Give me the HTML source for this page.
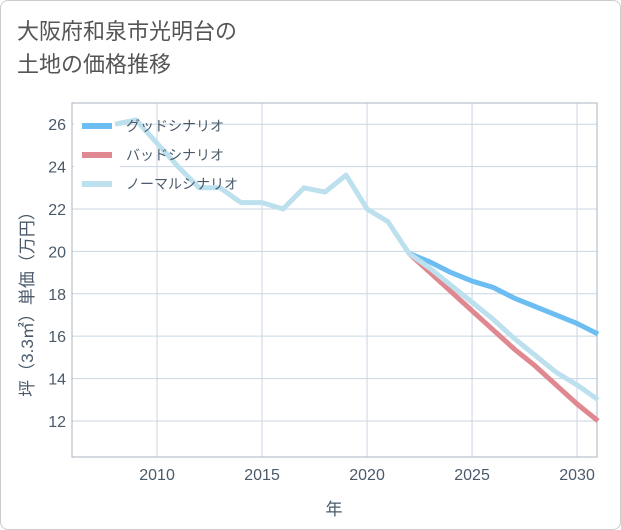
<!DOCTYPE html>
<html><head><meta charset="utf-8"><style>
body{margin:0;background:#fff}
#wrap{position:relative;width:619px;height:528px;border:1px solid #ccc;border-radius:8px;background:#fff;overflow:hidden;font-family:"Liberation Sans","Noto Sans CJK JP",sans-serif}
#title{position:absolute;left:16px;top:14px;font-size:22px;line-height:33px;color:#555}
</style></head><body>
<div id="wrap">
<div id="title">大阪府和泉市光明台の<br>土地の価格推移</div>
<svg id="chart" width="621" height="530" style="position:absolute;left:-1px;top:-1px"></svg>
</div>
<script>
const years=[2008,2009,2010,2011,2012,2013,2014,2015,2016,2017,2018,2019,2020,2021,2022,2023,2024,2025,2026,2027,2028,2029,2030,2031];
const normalVals=[26.0,26.2,25.1,24.0,23.0,23.0,22.3,22.3,22.0,23.0,22.8,23.6,22.0,21.4,19.9,19.2,18.4,17.6,16.8,15.9,15.1,14.3,13.7,13.0];
const futureYears=[2022,2023,2024,2025,2026,2027,2028,2029,2030,2031];
const goodVals=[19.9,19.5,19.0,18.6,18.3,17.8,17.4,17.0,16.6,16.1];
const badVals=[19.9,19.0,18.1,17.2,16.3,15.4,14.6,13.7,12.8,12.0];
const xTicks=[2010,2015,2020,2025,2030];
const yTicks=[12,14,16,18,20,22,24,26];
const legendLabels=["グッドシナリオ","バッドシナリオ","ノーマルシナリオ"];
const colors=["#6bbdf2","#e08890","#bde0ee"];
const L=72,R=597,T=103,B=457;
const x=v=>L+(v-2005.95)/25*(R-L);
const y=v=>T+(27-v)/(27-10.3)*(B-T);
const svg=document.getElementById('chart');
const NS='http://www.w3.org/2000/svg';
function mk(tag,attrs){const e=document.createElementNS(NS,tag);for(const k in attrs)e.setAttribute(k,attrs[k]);svg.appendChild(e);return e;}
for(const t of xTicks){const l=mk('line',{x1:x(t),x2:x(t),y1:T,y2:B,stroke:'#c8d6e2','stroke-width':1});


const tx=mk('text',{x:x(t),y:B+23,'text-anchor':'middle','font-size':16,fill:'#4a5a6a'});tx.textContent=t;

}
for(const t of yTicks){const l=mk('line',{x1:L,x2:R,y1:y(t),y2:y(t),stroke:'#c8d6e2','stroke-width':1});


const tx=mk('text',{x:L-6,y:y(t)+6,'text-anchor':'end','font-size':16,fill:'#4a5a6a'});tx.textContent=t;

}
const fr=mk('rect',{x:L,y:T,width:R-L,height:B-T,fill:'none',stroke:'#aab4c0','stroke-width':1});


const lb=mk('rect',{x:74,y:108,width:46,height:88,fill:'#fff'});


function line(xs,vs,c,name){const p=mk('polyline',{points:xs.map((a,i)=>x(a)+','+y(vs[i])).join(' '),fill:'none',stroke:c,'stroke-width':5,'stroke-linejoin':'round'});

}
line(futureYears,goodVals,colors[0],'good-scenario-line');
line(futureYears,badVals,colors[1],'bad-scenario-line');
line(years,normalVals,colors[2],'normal-scenario-line');
legendLabels.forEach((lb,i)=>{const yy=126+i*29;
const r=mk('rect',{x:82,y:yy-3,width:30,height:6,fill:colors[i]});


const t=mk('text',{x:126,y:yy+5,'font-size':14,fill:'#4a5a6a'});t.textContent=lb;

});
const xt=mk('text',{x:334,y:515,'text-anchor':'middle','font-size':17,fill:'#4a5a6a'});xt.textContent='年';


const yt=mk('text',{x:0,y:0,'text-anchor':'middle','font-size':17,fill:'#4a5a6a',transform:'translate(33,300) rotate(-90)'});yt.textContent='坪（3.3㎡）単価（万円）';


</script>
</body></html>
